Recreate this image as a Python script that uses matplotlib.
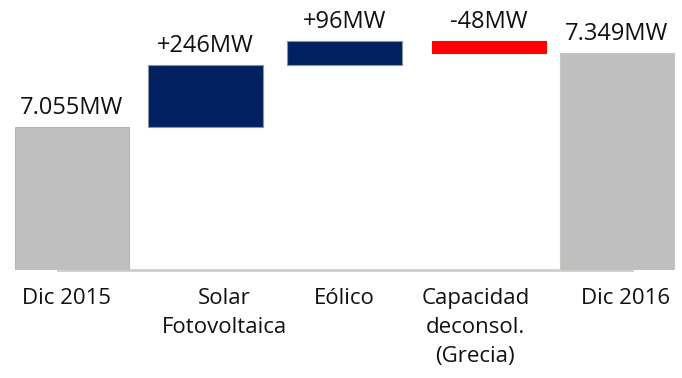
import matplotlib
matplotlib.use("Agg")
import matplotlib.pyplot as plt

# Installed capacity bridge, MW
categories = ["Dic 2015", "Solar\nFotovoltaica", "Eólico", "Capacidad\ndeconsol.\n(Grecia)", "Dic 2016"]
start_total = 7055
changes = [246, 96, -48]
end_total = 7349
value_labels = ["7.055MW", "+246MW", "+96MW", "-48MW", "7.349MW"]

plt.rcParams["font.family"] = ["Open Sans", "DejaVu Sans"]

GREY = "#bfbfbf"
NAVY = "#002060"
RED = "#ff0000"

fig = plt.figure(figsize=(6.82, 3.78), dpi=100)
ax = fig.add_axes([0, (378 - 270) / 378, 1, 270 / 378])

# Floating bars for the changes, full bars for the totals
bottoms, heights, colors = [0], [start_total], [GREY]
running = start_total
for c in changes:
    if c >= 0:
        bottoms.append(running)
        heights.append(c)
        colors.append(NAVY)
    else:
        bottoms.append(running + c)
        heights.append(-c)
        colors.append(RED)
    running += c
bottoms.append(0)
heights.append(end_total)
colors.append(GREY)

# Slightly uneven spacing between the columns
xs = [0, 0.98, 2.0, 3.06, 4.0]
edges = ["#b6b9ae", "#8c949c", "#8c949c", RED, "#c6c8c0"]
ax.bar(xs, heights, bottom=bottoms, width=0.84, color=colors,
       edgecolor=edges, linewidth=0.8, zorder=3)

# Value labels above each bar
for x, b, h, lab in zip(xs, bottoms, heights, value_labels):
    ax.annotate(lab, (x, b + h), xytext=(0, 5), textcoords="offset points",
                ha="center", va="bottom", fontsize=17, color="#111111",
                annotation_clip=False)

# Category labels under the baseline
label_x = [-0.04, 1.12, 2.0, 2.96, 4.06]
for x, lab in zip(label_x, categories):
    ax.text(x, -0.065, lab, transform=ax.get_xaxis_transform(), ha="center",
            va="top", fontsize=16, color="#111111", linespacing=1.5)

ax.set_xlim(-0.528, 4.477)
ax.set_ylim(6486, 7560)
ax.axhline(6486, xmin=58 / 682, xmax=632 / 682, color="#cdd0c4",
           linewidth=2, zorder=2, clip_on=False)
ax.axis("off")

fig.savefig("out.png", dpi=100)
